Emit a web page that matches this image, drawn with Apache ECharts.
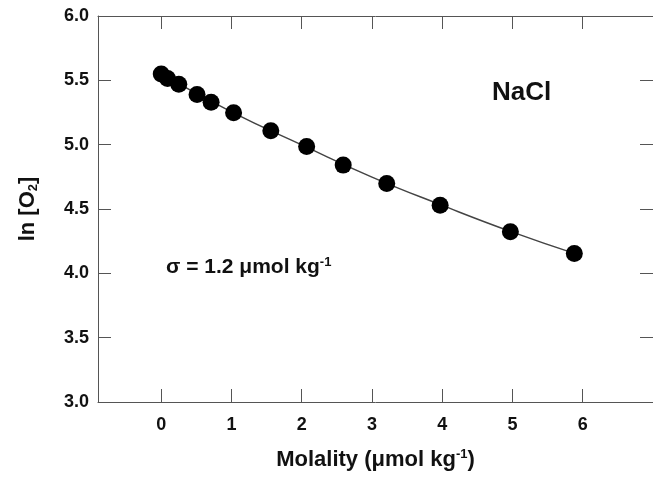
<!DOCTYPE html>
<html>
<head>
<meta charset="utf-8">
<script src="https://cdn.jsdelivr.net/npm/echarts@6/dist/echarts.min.js"></script>
<style>
  html, body { margin: 0; padding: 0; background: #fff; }
  #chart { width: 653px; height: 478px; }
</style>
</head>
<body>
<div id="chart"></div>
<script>
// measured points (molality, ln[O2])
const molality = [0, 0.09, 0.25, 0.51, 0.71, 1.03, 1.56, 2.07, 2.59, 3.21, 3.97, 4.97, 5.88]
const lnO2 = [5.55, 5.515, 5.47, 5.39, 5.33, 5.248, 5.108, 4.985, 4.841, 4.699, 4.53, 4.323, 4.155]

// fitted curve
const fitX = [0, 1, 2, 3, 4, 5, 5.88]
const fitY = [5.55, 5.255, 4.998, 4.748, 4.528, 4.32, 4.155]

const xTicks = [0, 1, 2, 3, 4, 5, 6]
const axisColor = '#555'
const font = 'Liberation Sans, Arial, sans-serif'

const pts = molality.map((x, i) => [x, lnO2[i]])
const fit = fitX.map((x, i) => [x, fitY[i]])

const chart = echarts.init(document.getElementById('chart'))

const xBase = {
  type: 'value',
  min: -0.9,
  max: 7,
  splitLine: { show: false },
  axisLine: { show: true, onZero: false, lineStyle: { color: axisColor, width: 1 } },
  axisTick: { show: true, inside: true, length: 13, customValues: xTicks, lineStyle: { color: axisColor } }
}
const yBase = {
  type: 'value',
  min: 3,
  max: 6,
  interval: 0.5,
  splitLine: { show: false },
  axisLine: { show: true, onZero: false, lineStyle: { color: axisColor, width: 1 } },
  axisTick: { show: true, inside: true, length: 13, lineStyle: { color: axisColor } }
}

chart.setOption({
  animation: false,
  grid: { left: 98, right: -4, top: 16, bottom: 76 },
  xAxis: [
    Object.assign({}, xBase, {
      position: 'bottom',
      axisLabel: {
        customValues: xTicks, margin: 14,
        fontSize: 18, fontWeight: 'bold', color: '#111', fontFamily: font
      },
      name: '{n|Molality (\u03bcmol kg}{s|-1}{n|)}',
      nameLocation: 'middle',
      nameGap: 46,
      nameTextStyle: {
        rich: {
          n: { fontSize: 22, fontWeight: 'bold', color: '#111', fontFamily: font },
          s: { fontSize: 13, fontWeight: 'bold', color: '#111', fontFamily: font, verticalAlign: 'top', padding: [0, 0, 10, 0] }
        }
      }
    }),
    Object.assign({}, xBase, { position: 'top', axisLabel: { show: false } })
  ],
  yAxis: [
    Object.assign({}, yBase, {
      position: 'left',
      axisLabel: {
        margin: 9, fontSize: 18, fontWeight: 'bold', color: '#111', fontFamily: font,
        formatter: v => v.toFixed(1)
      },
      name: '{n|ln [O}{s|2}{n|]}',
      nameLocation: 'middle',
      nameGap: 58,
      nameRotate: 90,
      nameTextStyle: {
        rich: {
          n: { fontSize: 22, fontWeight: 'bold', color: '#111', fontFamily: font },
          s: { fontSize: 13, fontWeight: 'bold', color: '#111', fontFamily: font, padding: [12, 0, 0, 0] }
        }
      }
    }),
    Object.assign({}, yBase, { position: 'right', axisLabel: { show: false } })
  ],
  series: [
    {
      type: 'line',
      data: fit,
      smooth: true,
      showSymbol: false,
      lineStyle: { color: '#444', width: 1.5 },
      z: 1
    },
    {
      type: 'scatter',
      data: pts,
      symbol: 'circle',
      symbolSize: 17,
      itemStyle: { color: '#000', opacity: 1 },
      z: 2
    }
  ],
  graphic: [
    {
      type: 'text', left: 492, top: 80,
      style: { text: 'NaCl', font: 'bold 26px ' + font, fill: '#111' }
    },
    {
      type: 'text', left: 166, top: 256,
      style: {
        text: '{n|\u03c3 = 1.2 \u03bcmol kg}{s|-1}',
        rich: {
          n: { font: 'bold 21px ' + font, fill: '#111' },
          s: { font: 'bold 13px ' + font, fill: '#111', verticalAlign: 'top', padding: [0, 0, 10, 0] }
        }
      }
    }
  ]
})
</script>
</body>
</html>
